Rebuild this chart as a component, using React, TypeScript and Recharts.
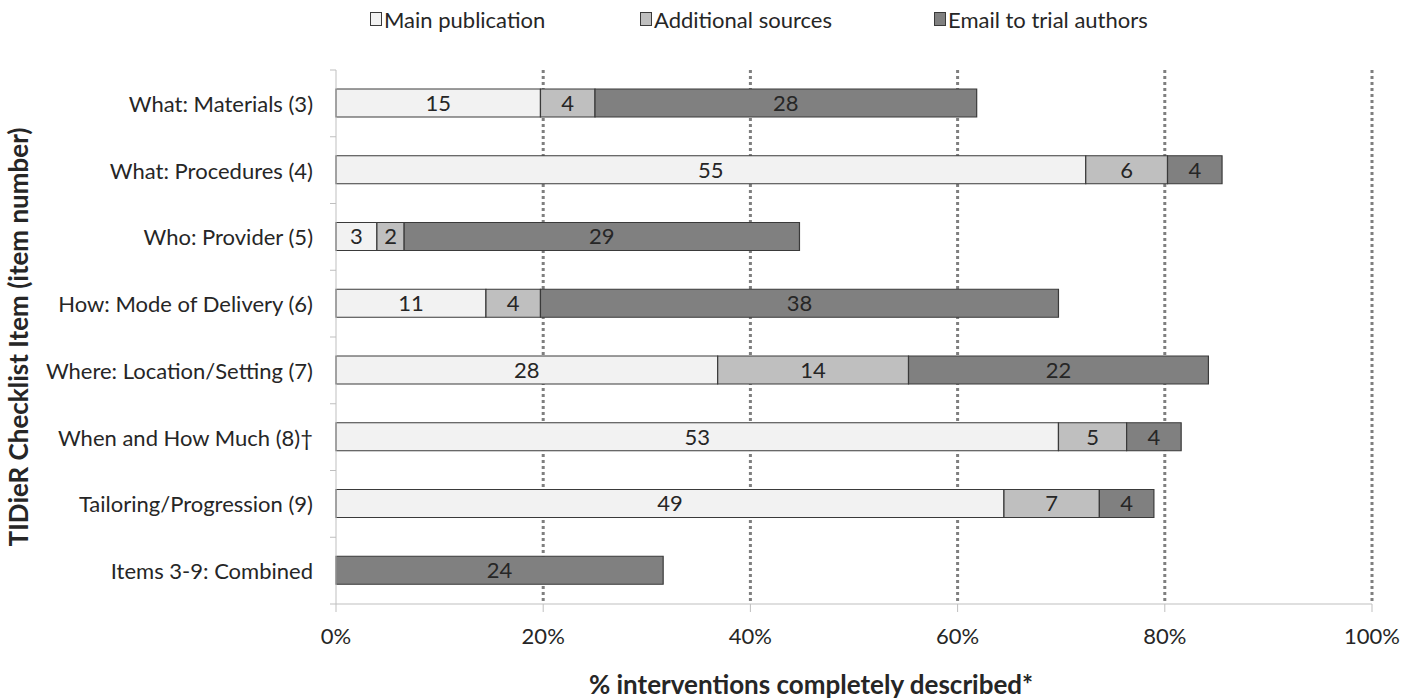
import {
	BarChart,
	Bar,
	XAxis,
	YAxis,
	CartesianGrid,
	Legend,
	LabelList,
	Label,
} from "recharts";

const categories = [
	"What: Materials (3)",
	"What: Procedures (4)",
	"Who: Provider (5)",
	"How: Mode of Delivery (6)",
	"Where: Location/Setting (7)",
	"When and How Much (8)†",
	"Tailoring/Progression (9)",
	"Items 3-9: Combined",
];

// counts of interventions (labels on the bars)
const mainPublication = [15, 55, 3, 11, 28, 53, 49, 0];
const additionalSources = [4, 6, 2, 4, 14, 5, 7, 0];
const emailAuthors = [28, 4, 29, 38, 22, 4, 4, 24];

const TOTAL = 76;
const xTicks = [0, 20, 40, 60, 80, 100];

const FONT = "Lato, 'Open Sans', sans-serif";
const TEXT = "#262626";
const AXIS = "#bfbfbf";
const BORDER = "#3a3a3a";

const SERIES = [
	{ key: "main", label: "Main publication", fill: "#f2f2f2", w: 270 },
	{ key: "additional", label: "Additional sources", fill: "#bfbfbf", w: 294 },
	{ key: "email", label: "Email to trial authors", fill: "#808080", w: 220 },
];

const data = categories.map((name, i) => ({
	name,
	main: (mainPublication[i] / TOTAL) * 100,
	additional: (additionalSources[i] / TOTAL) * 100,
	email: (emailAuthors[i] / TOTAL) * 100,
	mainN: mainPublication[i],
	additionalN: additionalSources[i],
	emailN: emailAuthors[i],
}));

const WIDTH = 1414;
const HEIGHT = 700;
const MARGIN = { top: 40, right: 42, bottom: 0, left: 0 };
const Y_WIDTH = 336;
const X_HEIGHT = 96;
const TICK_SIZE = 6;
const TICK_MARGIN = 17;

const CategoryTick = (props: any) => {
	const { x, y, payload, index } = props;
	const plotH = HEIGHT - 70 - X_HEIGHT;
	const band = plotH / categories.length;
	const lx = x + TICK_MARGIN;
	return (
		<g>
			<text
				x={x}
				y={y}
				textAnchor="end"
				dominantBaseline="central"
				fontFamily={FONT}
				fontSize={22}
				fill={TEXT}
			>
				{payload.value}
			</text>
			<line x1={lx} x2={lx + TICK_SIZE} y1={y - band / 2} y2={y - band / 2} stroke={AXIS} />
			{index === categories.length - 1 && (
				<line x1={lx} x2={lx + TICK_SIZE} y1={y + band / 2} y2={y + band / 2} stroke={AXIS} />
			)}
		</g>
	);
};

const LegendContent = () => (
	<div
		style={{
			display: "flex",
			paddingLeft: 370,
			height: 30,
			alignItems: "center",
			fontFamily: FONT,
			fontSize: 22,
			color: TEXT,
		}}
	>
		{SERIES.map((s) => (
			<div key={s.key} style={{ display: "flex", alignItems: "center", width: s.w }}>
				<span
					style={{
						display: "inline-block",
						width: 10,
						height: 12,
						background: s.fill,
						border: `1px solid ${BORDER}`,
						marginRight: 2,
					}}
				/>
				<span>{s.label}</span>
			</div>
		))}
	</div>
);

export default function App() {
	return (
		<div style={{ position: "absolute", left: 0, top: 0, background: "#fff" }}>
			<BarChart
				width={WIDTH}
				height={HEIGHT}
				data={data}
				layout="vertical"
				margin={MARGIN}
				barSize={28}
			>
				<Legend
					verticalAlign="top"
					align="left"
					content={<LegendContent />}
					wrapperStyle={{ top: 4, left: 0, width: WIDTH }}
				/>
				<CartesianGrid
					horizontal={false}
					stroke="#7f7f7f"
					strokeWidth={3}
					strokeDasharray="3 3"
					verticalCoordinatesGenerator={({ offset }: any) =>
						xTicks.slice(1).map((t) => offset.left + (offset.width * t) / 100)
					}
				/>
				<XAxis
					type="number"
					domain={[0, 100]}
					ticks={xTicks}
					tickFormatter={(v: number) => `${v}%`}
					height={X_HEIGHT}
					stroke={AXIS}
					tickSize={8}
					tickMargin={16}
					tick={{ fill: TEXT, fontSize: 22, fontFamily: FONT }}
				>
					<Label
						position="insideBottom"
						content={({ viewBox }: any) => (
							<text
								x={viewBox.x + viewBox.width / 2 - 43}
								y={viewBox.y + viewBox.height - 6}
								textAnchor="middle"
								fontFamily={FONT}
								fontWeight="bold"
								fontSize={26}
								fill={TEXT}
							>
								% interventions completely described*
							</text>
						)}
					/>
				</XAxis>
				<YAxis
					type="category"
					dataKey="name"
					width={Y_WIDTH}
					stroke={AXIS}
					tickLine={false}
					tickSize={TICK_SIZE}
					tickMargin={TICK_MARGIN}
					tick={<CategoryTick />}
					interval={0}
				>
					<Label
						position="insideLeft"
						content={({ viewBox }: any) => {
							const cx = 18;
							const cy = viewBox.y + viewBox.height / 2;
							return (
								<text
									x={cx}
									y={cy}
									transform={`rotate(-90 ${cx} ${cy})`}
									textAnchor="middle"
									dominantBaseline="central"
									fontFamily={FONT}
									fontWeight="bold"
									fontSize={26}
									fill={TEXT}
								>
									TIDieR Checklist Item (item number)
								</text>
							);
						}}
					/>
				</YAxis>
				{SERIES.map((s) => (
					<Bar
						key={s.key}
						dataKey={s.key}
						name={s.label}
						stackId="a"
						fill={s.fill}
						stroke={BORDER}
						strokeWidth={1.2}
						isAnimationActive={false}
					>
						<LabelList
							dataKey={`${s.key}N`}
							position="center"
							formatter={(v: any) => (v ? v : "")}
							fill={TEXT}
							fontSize={22}
							fontFamily={FONT}
						/>
					</Bar>
				))}
			</BarChart>
		</div>
	);
}
